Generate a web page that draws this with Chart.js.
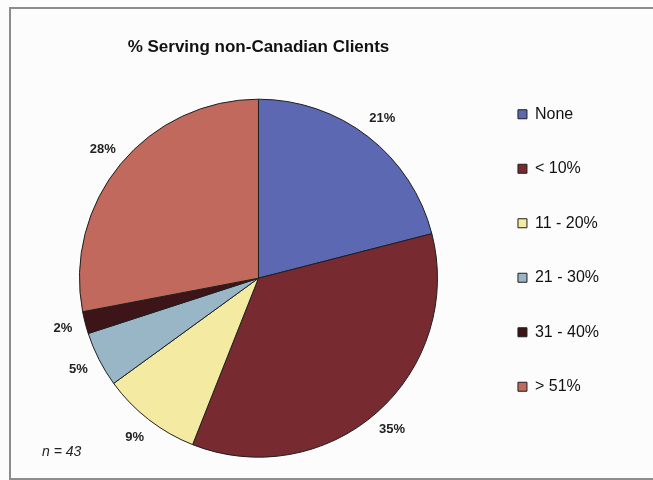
<!DOCTYPE html>
<html>
<head>
<meta charset="utf-8">
<title>% Serving non-Canadian Clients</title>
<script src="https://cdn.jsdelivr.net/npm/chart.js@4/dist/chart.umd.min.js"></script>
<style>
  html, body { margin: 0; padding: 0; background: #fcfcfc; overflow: hidden; }
  #wrap { position: relative; width: 653px; height: 480px; }
  #frame {
    position: absolute; left: 9px; top: 7px; width: 660px; height: 469px;
    border: 2px solid #8c8c8c; border-right: none;
  }
  #chart { position: absolute; left: 0; top: 0; }
  #note {
    position: absolute; left: 42px; top: 443px; line-height: 16px;
    font: italic 14px "Liberation Sans", Arial, sans-serif; color: #222;
  }
</style>
</head>
<body>
<div id="wrap">
  <div id="frame"></div>
  <canvas id="chart" width="653" height="480"></canvas>
  <div id="note">n = 43</div>
</div>
<script>
const categories = ['None', '< 10%', '11 - 20%', '21 - 30%', '31 - 40%', '> 51%'];
const shares = [21, 35, 9, 5, 2, 28];
const sliceColors = ['#5c68b2', '#782a31', '#f4eaa2', '#98b6c6', '#3d1519', '#c0695c'];

const FONT = '"Liberation Sans", Arial, sans-serif';

// percentage labels just outside each slice
const sliceLabels = {
    id: 'sliceLabels',
    afterDatasetsDraw(chart) {
        const ctx = chart.ctx;
        const meta = chart.getDatasetMeta(0);
        ctx.save();
        ctx.font = 'bold 13px ' + FONT;
        ctx.fillStyle = '#222';
        ctx.textAlign = 'center';
        ctx.textBaseline = 'middle';
        meta.data.forEach((arc, i) => {
            const p = arc.getProps(['x', 'y', 'startAngle', 'endAngle', 'outerRadius'], true);
            const mid = (p.startAngle + p.endAngle) / 2;
            const r = p.outerRadius + 23;
            ctx.fillText(shares[i] + '%', p.x + Math.cos(mid) * r, p.y + Math.sin(mid) * r);
        });
        ctx.restore();
    }
};

const ctx = document.getElementById('chart').getContext('2d');
new Chart(ctx, {
    type: 'pie',
    data: {
        labels: categories,
        datasets: [{
            data: shares,
            backgroundColor: sliceColors,
            borderColor: '#1e1e1e',
            borderWidth: 1,
            radius: 179
        }]
    },
    options: {
        responsive: false,
        animation: false,
        layout: { padding: { top: 21, right: 44, bottom: 0, left: 37.5 } },
        plugins: {
            title: {
                display: true,
                text: '% Serving non-Canadian Clients',
                fullSize: false,
                color: '#111',
                font: { family: FONT, size: 17, weight: 'bold' },
                padding: { top: 16, bottom: 19 }
            },
            legend: {
                position: 'right',
                labels: {
                    color: '#111',
                    font: { family: FONT, size: 16 },
                    boxWidth: 9,
                    boxHeight: 9,
                    padding: 38.5
                }
            },
            tooltip: { enabled: false }
        }
    },
    plugins: [sliceLabels]
});
</script>
</body>
</html>
